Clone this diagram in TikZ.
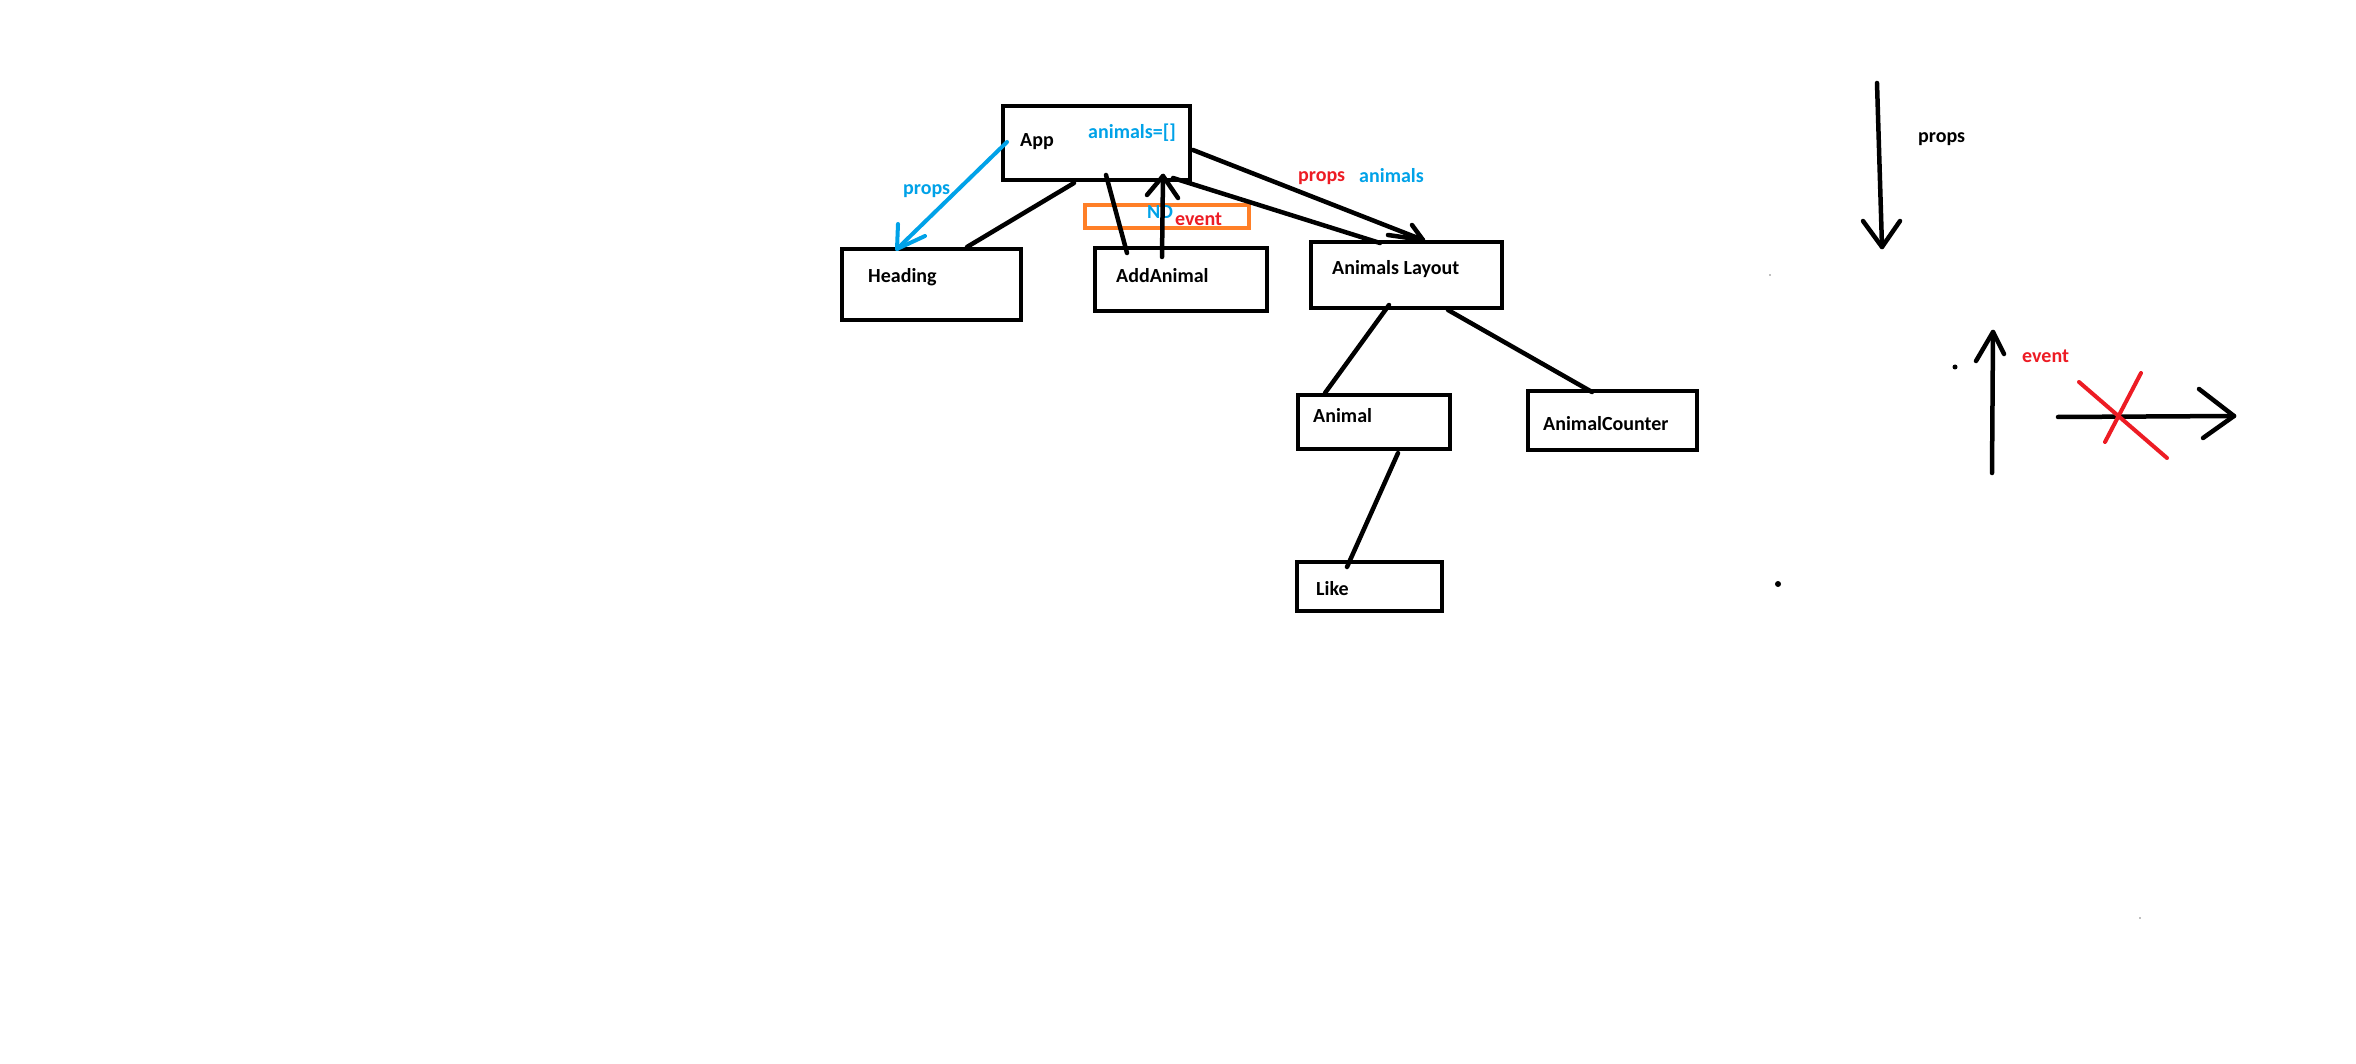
\documentclass[tikz,border=0pt]{standalone}
\usepackage{fontspec}
\setmainfont{Carlito}
\definecolor{pblue}{RGB}{0,162,232}
\definecolor{pred}{RGB}{237,28,36}
\definecolor{porange}{RGB}{255,127,39}
\begin{document}
\begin{tikzpicture}[x=1pt,y=-1pt,
  box/.style={draw=black,line width=4pt,inner sep=0pt,rectangle},
  lbl/.style={font=\bfseries\fontsize{20}{24}\selectfont,inner sep=0pt,anchor=base west},
  conn/.style={draw=black,line width=4.5pt,line cap=round,line join=round},
  bconn/.style={draw=pblue,line width=4pt,line cap=round,line join=round},
  rconn/.style={draw=pred,line width=4pt,line cap=round}]
\fill[white] (0,0) rectangle (2356,1064);
\useasboundingbox (0,0) rectangle (2356,1064);

% boxes
\node[box,minimum width=187pt,minimum height=74pt] (app) at (1096.5,143) {};
\node[box,minimum width=179pt,minimum height=71pt] (heading) at (931.5,284.5) {};
\node[box,minimum width=172pt,minimum height=63pt] (add) at (1181,279.5) {};
\node[box,minimum width=191pt,minimum height=66pt] (layout) at (1406.5,275) {};
\node[box,minimum width=152pt,minimum height=54pt] (animal) at (1374,422) {};
\node[box,minimum width=169pt,minimum height=59pt] (counter) at (1612.5,420.5) {};
\node[box,minimum width=145pt,minimum height=49pt] (like) at (1369.5,586.5) {};
\node[draw=porange,line width=4pt,inner sep=0pt,minimum width=164pt,minimum height=23pt] (orange) at (1167,216.5) {};

% labels
\node[lbl] (tApp) at (1020,147) {App};
\node[lbl,text=pblue] (tState) at (1088,139) {animals=[]};
\node[lbl] (tHeading) at (868,283) {Heading};
\node[lbl] (tAdd) at (1116,283) {AddAnimal};
\node[lbl] (tLayout) at (1332,275) {Animals Layout};
\node[lbl] (tAnimal) at (1313,422) {Animal};
\node[lbl] (tCounter) at (1543,431) {AnimalCounter};
\node[lbl] (tLike) at (1316,595) {Like};
\node[lbl,text=pblue] (tProps1) at (903,195) {props};
\node[lbl,text=pblue] (tND) at (1147,219) {ND};
\node[lbl,text=pred] (tEvent1) at (1175,226) {event};
\node[lbl,text=pred] (tProps2) at (1298,182) {props};
\node[lbl,text=pblue] (tAnimals) at (1359,183) {animals};
\node[lbl] (tProps3) at (1918,143) {props};
\node[lbl,text=pred] (tEvent2) at (2022,363) {event};

% connector end points
\coordinate (bS) at (1007,142);
\coordinate (bT) at (897,249);
\coordinate (bW1) at (898,224);
\coordinate (bW2) at (925,236);
\coordinate (aH1) at (1074,183);
\coordinate (aH2) at (967,247);
\coordinate (aA1) at (1106,175);
\coordinate (aA2) at (1127,253);
\coordinate (uS) at (1162,257);
\coordinate (uT) at (1163,176);
\coordinate (uW1) at (1147,195);
\coordinate (uW2) at (1178,198);
\coordinate (lS) at (1193,150);
\coordinate (lT) at (1423,240);
\coordinate (lW1) at (1388,235);
\coordinate (lW2) at (1412,225);
\coordinate (l2S) at (1173,178);
\coordinate (l2T) at (1380,243);
\coordinate (la1) at (1389,305);
\coordinate (la2) at (1325,393);
\coordinate (lc1) at (1448,310);
\coordinate (lc2) at (1592,392);
\coordinate (al1) at (1398,453);
\coordinate (al2) at (1347,567);

% connectors
\draw[bconn] (bS) -- (bT);
\draw[bconn] (bW1) -- (bT) -- (bW2);
\draw[conn] (aH1) -- (aH2);
\draw[conn] (aA1) -- (aA2);
\draw[conn] (uS) -- (uT);
\draw[conn] (uW1) -- (uT) -- (uW2);
\draw[conn] (lS) -- (lT);
\draw[conn] (lW1) -- (lT) -- (lW2);
\draw[conn] (l2S) -- (l2T);
\draw[conn] (la1) -- (la2);
\draw[conn] (lc1) -- (lc2);
\draw[conn] (al1) -- (al2);

% legend
\coordinate (dS) at (1877,83);
\coordinate (dT) at (1882,247);
\coordinate (dW1) at (1863,221);
\coordinate (dW2) at (1900,221);
\coordinate (eS) at (1992,473);
\coordinate (eT) at (1993,332);
\coordinate (eW1) at (1976,361);
\coordinate (eW2) at (2004,354);
\coordinate (rS) at (2058,417);
\coordinate (rT) at (2234,416);
\coordinate (rW1) at (2199,389);
\coordinate (rW2) at (2203,438);
\coordinate (x1a) at (2079,382);
\coordinate (x1b) at (2167,458);
\coordinate (x2a) at (2141,373);
\coordinate (x2b) at (2105,442);
\draw[conn] (dS) -- (dT);
\draw[conn] (dW1) -- (dT) -- (dW2);
\draw[conn] (eS) -- (eT);
\draw[conn] (eW1) -- (eT) -- (eW2);
\draw[conn] (rS) -- (rT);
\draw[conn] (rW1) -- (rT) -- (rW2);
\draw[rconn] (x1a) -- (x1b);
\draw[rconn] (x2a) -- (x2b);

% stray dots
\fill[black] (1955,367) circle (2.5);
\fill[black] (1778,584) circle (3);
\fill[gray] (1770,275) circle (0.8);
\fill[gray] (2140,918) circle (0.8);
\end{tikzpicture}
\end{document}
